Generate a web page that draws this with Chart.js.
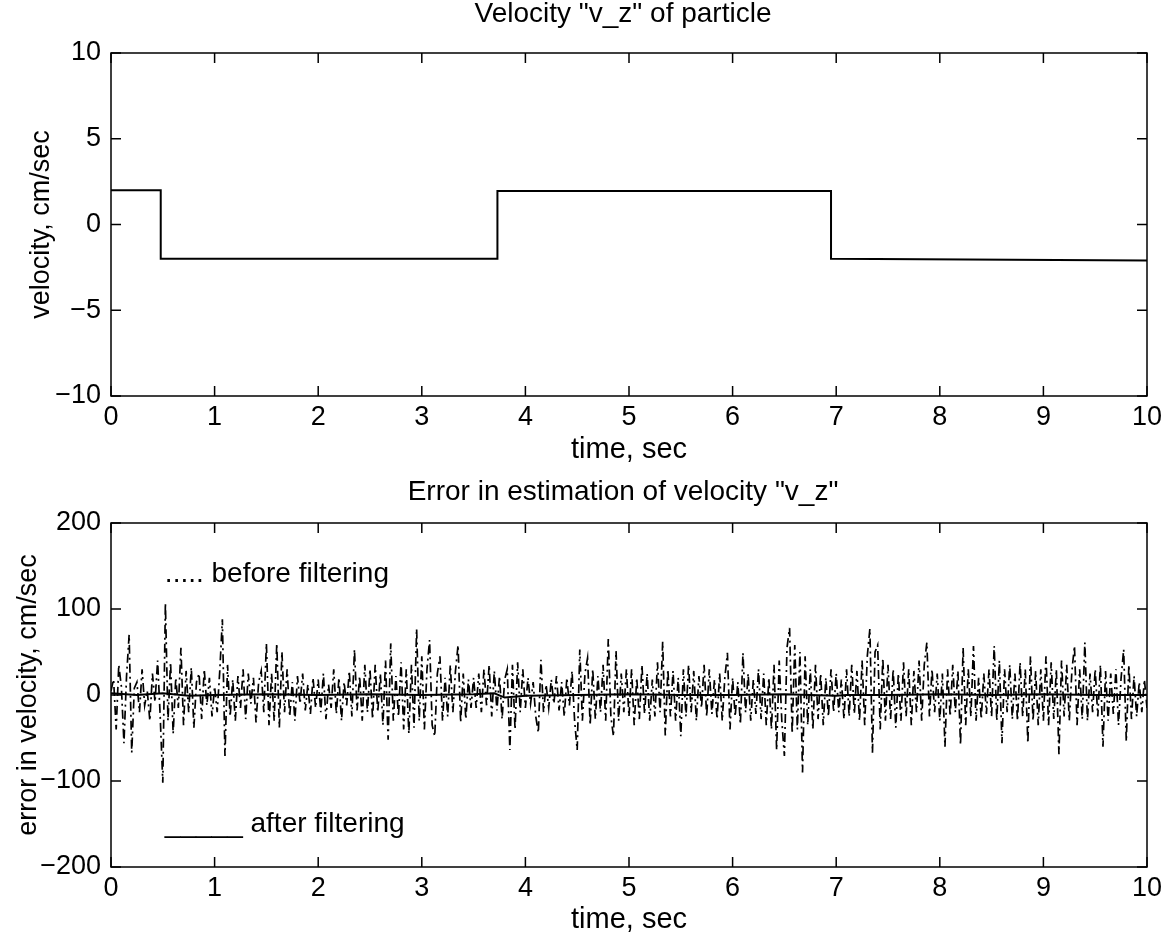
<!DOCTYPE html>
<html>
<head>
<meta charset="utf-8">
<script src="https://cdn.jsdelivr.net/npm/chart.js@4.4.1/dist/chart.umd.min.js"></script>
<style>
  body { margin: 0; background: #fff; }
  #wrap { position: relative; width: 1170px; height: 938px; }
  canvas { position: absolute; left: 0; }
  #top { top: 0; }
  #bottom { top: 470px; }
</style>
</head>
<body>
<div id="wrap">
  <canvas id="top" width="1170" height="470"></canvas>
  <canvas id="bottom" width="1170" height="468"></canvas>
</div>
<script>
// top plot: velocity v_z (step profile)
const velTime = [0, 0.48, 0.48, 3.73, 3.73, 6.95, 6.95, 10];
const velValue = [2, 2, -2, -2, 1.95, 1.95, -2, -2.1];

// bottom plot: error before filtering, one sample every 0.025 s (rows of 0.5 s)
const noiseDt = 0.025;
const errBefore = [
  5, 18, -40, 35, 10, -56, 22, 70, -67, 8, 15, -20, 30, -12, 5, -30, 25, -8, 40, -25,
  -102, 107, -30, 38, -45, 20, -15, 55, -35, 28, -20, 32, -38, 15, 25, -28, 30, -12, 20, -25,
  10, -20, 28, 88, -71, 35, -25, 18, -30, 22, -15, 30, -28, 25, -10, 20, -32, 15, 28, -20,
  60, -35, 25, -30, 60, -38, 50, -20, 30, -25, 15, -30, 22, -10, 25, -18, 12, -22, 20, -15,
  18, -20, 25, -28, 12, -15, 30, -22, 20, -30, 15, -12, 28, -25, 53, -18, 22, -30, 35, -20,
  30, -28, 35, -20, 25, -35, 40, -52, 60, -30, 22, -25, 38, -40, 30, -45, 35, -38, 77, -30,
  45, -40, 30, 64, -35, -48, 25, 45, -30, 20, -25, 35, -20, 28, 58, -32, 25, -28, 18, -15,
  20, -15, 25, -20, 30, -12, 35, -25, 28, -18, 22, -28, 18, 30, -64, 35, -40, 38, -20, 30,
  -15, 20, -10, 15, -25, -44, 41, -20, 12, -15, 18, -10, 22, -18, 15, -25, 20, -12, 28, -30,
  -64, 53, -30, 25, 43, -35, 30, -28, 22, -20, 35, -30, 65, -25, -48, 51, -30, 25, -20, 30,
  -25, 30, -35, 20, -28, 35, -22, 25, -30, 18, -25, 38, -20, 62, -47, 30, -25, 28, -30, 20,
  -48, 30, -25, 35, -20, 28, -30, 22, -15, 35, -25, 30, -22, 18, -28, 25, -30, 20, 49, -40,
  20, -25, 15, -34, 49, -20, 25, -30, 18, -22, 30, -28, 25, -35, 20, -40, 35, -64, 40, -30,
  -71, 55, 78, -45, 58, -40, 50, -90, 45, -35, 30, -40, 35, -28, 25, -35, 20, -25, 30, -20,
  25, -20, 18, -28, 30, -25, 35, -22, 28, -30, 40, -35, 45, 77, -67, 50, 58, -40, 43, -30,
  35, -28, 30, -38, 25, -30, 38, -25, 30, -35, 28, -20, 40, -30, 35, 61, -25, 30, -20, 25,
  -30, 25, -60, 30, -25, 35, -20, 28, -58, 55, -35, 30, -25, 57, -30, 20, -28, 25, -22, 30,
  -25, 57, -30, 40, -56, 30, -20, 35, -28, 25, -30, 38, -25, 30, -56, 45, -30, 28, -35, 30,
  -30, 45, -35, 38, -28, 30, -69, 40, -25, 35, -30, 28, 57, -35, 30, -28, 61, -30, 25, -20,
  30, -25, 35, -60, 28, -30, 25, -22, 30, -35, 20, 53, -54, 35, -28, 22, -25, 15, -20, 18,
  -15
];

// error after filtering
const filtTime = [0, 0.25, 0.5, 0.75, 1, 1.5, 2, 2.5, 3, 3.5, 3.7, 3.8, 4, 4.5, 5, 5.5, 6, 6.5, 7, 7.1, 7.5, 8, 8.5, 9, 9.5, 10];
const filtValue = [2, 0, 2, -1, 0, 1, 0, 1, 0, 1, 2, -3, -1, 0, 1, 0, 0, 1, -1, 0, 0, 1, 0, 1, 0, 0];

const timeTicks = [0, 1, 2, 3, 4, 5, 6, 7, 8, 9, 10];
const velTicks = [-10, -5, 0, 5, 10];
const errTicks = [-200, -100, 0, 100, 200];

const FONT = 'Liberation Sans, Arial, Helvetica, sans-serif';
const fmt = v => String(v).replace('-', '\u2212');

// box + inward ticks on all four sides, plus panel title and in-plot notes
const matlabBox = {
  id: 'matlabBox',
  afterDatasetsDraw(chart, args, opts) {
    const { ctx, chartArea: a, scales: { x, y } } = chart;
    ctx.save();
    ctx.strokeStyle = '#000';
    ctx.lineWidth = 1.5;
    ctx.strokeRect(a.left, a.top, a.right - a.left, a.bottom - a.top);
    ctx.beginPath();
    const len = 10;
    timeTicks.forEach(t => {
      const px = x.getPixelForValue(t);
      ctx.moveTo(px, a.bottom); ctx.lineTo(px, a.bottom - len);
      ctx.moveTo(px, a.top); ctx.lineTo(px, a.top + len);
    });
    opts.yTicks.forEach(v => {
      const py = y.getPixelForValue(v);
      ctx.moveTo(a.left, py); ctx.lineTo(a.left + len, py);
      ctx.moveTo(a.right, py); ctx.lineTo(a.right - len, py);
    });
    ctx.stroke();

    ctx.fillStyle = '#000';
    ctx.font = '28px ' + FONT;
    ctx.textAlign = 'center';
    ctx.textBaseline = 'middle';
    ctx.fillText(opts.title, (a.left + a.right) / 2 - 6, opts.titleY);

    ctx.textAlign = 'left';
    (opts.notes || []).forEach(n => {
      ctx.fillText(n.text, x.getPixelForValue(n.t), y.getPixelForValue(n.v));
    });
    ctx.restore();
  }
};

function axisOpts(min, max, step, ticks, title, pad, fitSize, isX) {
  return {
    type: 'linear',
    min: min, max: max,
    afterBuildTicks: s => { s.ticks = ticks.map(v => ({ value: v })); },
    ticks: {
      stepSize: step,
      color: '#000',
      padding: isX ? 5 : 10,
      font: { family: FONT, size: 27 },
      callback: v => fmt(v),
      maxRotation: 0
    },
    grid: { display: false, drawTicks: false },
    border: { display: false },
    title: {
      display: true, text: title, color: '#000',
      font: { family: FONT, size: isX ? 29 : 27 },
      padding: pad
    },
    afterFit: s => { if (isX) s.height = fitSize; else s.width = fitSize; }
  };
}

function makeChart(id, datasets, yMin, yMax, yStep, yTicks, yTitle, yTitlePad, xFit, xPadBottom, title, notes) {
  return new Chart(document.getElementById(id), {
    type: 'line',
    data: { datasets: datasets },
    options: {
      responsive: false,
      animation: false,
      parsing: false,
      layout: { padding: { left: 0, top: 53, right: 23, bottom: 0 } },
      plugins: {
        legend: { display: false },
        tooltip: { enabled: false },
        matlabBox: { yTicks: yTicks, title: title.text, titleY: title.y, notes: notes }
      },
      scales: {
        x: axisOpts(0, 10, 1, timeTicks, 'time, sec', { top: 0, bottom: xPadBottom }, xFit, true),
        y: axisOpts(yMin, yMax, yStep, yTicks, yTitle, { top: yTitlePad, bottom: 0 }, 111, false)
      }
    },
    plugins: [matlabBox]
  });
}

makeChart('top', [{
  data: velTime.map((t, i) => ({ x: t, y: velValue[i] })),
  borderColor: '#000', borderWidth: 2, pointRadius: 0, tension: 0
}], -10, 10, 5, velTicks, 'velocity, cm/sec', 25, 74, 3, { text: 'Velocity "v_z" of particle', y: 14 }, []);

makeChart('bottom', [{
  data: errBefore.map((v, i) => ({ x: i * noiseDt, y: v })),
  borderColor: '#000', borderWidth: 1.7, borderDash: [9, 4, 2, 4], pointRadius: 0, tension: 0
}, {
  data: filtTime.map((t, i) => ({ x: t, y: filtValue[i] })),
  borderColor: '#000', borderWidth: 2, pointRadius: 0, tension: 0
}], -200, 200, 100, errTicks, 'error in velocity, cm/sec', 12, 71, 1, { text: 'Error in estimation of velocity "v_z"', y: 22 }, [
  { text: '..... before filtering', t: 0.52, v: 140 },
  { text: '_____ after filtering', t: 0.52, v: -150 }
]);
</script>
</body>
</html>
